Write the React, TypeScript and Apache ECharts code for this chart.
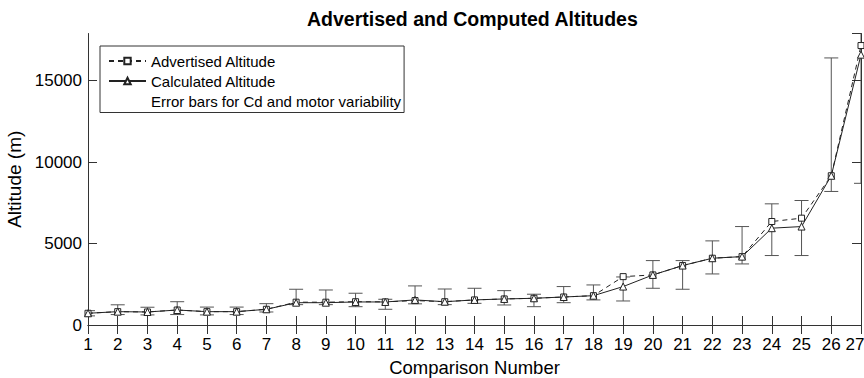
import React, { useEffect, useRef } from "react";
import * as echarts from "echarts";

const comparisonNumbers = [
  1, 2, 3, 4, 5, 6, 7, 8, 9, 10, 11, 12, 13, 14, 15, 16, 17, 18, 19, 20, 21, 22, 23, 24, 25, 26, 27,
];
const advertisedAltitude = [
  720, 820, 800, 920, 820, 820, 965, 1400, 1400, 1430, 1420, 1500, 1430, 1540, 1600, 1640, 1720, 1800,
  2970, 3075, 3650, 4100, 4200, 6355, 6560, 9165, 17160,
];
const calculatedAltitude = [
  720, 820, 800, 920, 820, 820, 965, 1370, 1370, 1415, 1415, 1540, 1430, 1540, 1600, 1640, 1720, 1800,
  2360, 3075, 3650, 4100, 4200, 5945, 6045, 9165, 16600,
];
const errorLow = [
  560, 640, 620, 640, 620, 640, 800, 1250, 1250, 1125, 965, 1300, 1250, 1330, 1230, 1125, 1370, 1540,
  1475, 2255, 2195, 3135, 3750, 4265, 4265, 8200, 8700,
];
const errorHigh = [
  880, 1240, 1090, 1430, 1100, 1100, 1310, 2195, 2150, 1950, 1580, 2400, 2210, 2255, 2110, 1890, 2360, 2460,
  2950, 3955, 3955, 5165, 6045, 7440, 7645, 16400, 19000,
];
const yTicks = [0, 5000, 10000, 15000];

const FONT = "'Liberation Sans', Arial, Helvetica, sans-serif";

export default function App() {
  const ref = useRef<HTMLDivElement>(null);
  useEffect(() => {
    if (!ref.current) return;
    const chart = echarts.init(ref.current, undefined, { renderer: "svg" });
    const errData = comparisonNumbers.map((c, i) => [c, errorLow[i], errorHigh[i]]);
    const advData = comparisonNumbers.map((c, i) => [c, advertisedAltitude[i]]);
    const calcData = comparisonNumbers.map((c, i) => [c, calculatedAltitude[i]]);
    const errStyle = { stroke: "#555", lineWidth: 1 };
    const lastX = comparisonNumbers[comparisonNumbers.length - 1];
    chart.setOption({
      animation: false,
      backgroundColor: "#fff",
      textStyle: { fontFamily: FONT },
      title: {
        text: "Advertised and Computed Altitudes",
        left: 307,
        top: 9,
        padding: 0,
        textStyle: { fontFamily: FONT, fontSize: 19.5, fontWeight: "bold", color: "#000" },
      },
      legend: {
        orient: "vertical",
        left: 100,
        top: 46,
        padding: [7.5, 3, 4, 8],
        itemWidth: 37,
        itemHeight: 8,
        itemGap: 5,
        borderColor: "#333",
        borderWidth: 1,
        backgroundColor: "#fff",
        selectedMode: false,
        textStyle: { fontFamily: FONT, fontSize: 15, color: "#000" },
        data: [
          { name: "Advertised Altitude" },
          { name: "Calculated Altitude" },
          { name: "Error bars for Cd and motor variability", icon: "rect", itemStyle: { opacity: 0 } },
        ],
      },
      grid: { left: 88, right: 3, top: 33.5, bottom: 53, containLabel: false, outerBoundsMode: "none" },
      xAxis: [
        {
          type: "value",
          min: 1,
          max: 27,
          interval: 1,
          position: "bottom",
          name: "Comparison Number",
          nameLocation: "middle",
          nameGap: 33,
          nameTextStyle: { fontFamily: FONT, fontSize: 18.5, color: "#000", lineHeight: 19 },
          axisLine: { show: true, lineStyle: { color: "#333", width: 1 } },
          axisTick: { show: true, inside: true, length: 9, lineStyle: { color: "#333" } },
          axisLabel: {
            fontFamily: FONT,
            fontSize: 17,
            color: "#000",
            margin: 11,
            formatter: (v: number) => (v === lastX ? "{last|" + v + "}" : String(v)),
            rich: {
              last: { fontFamily: FONT, fontSize: 17, color: "#000", padding: [0, 12, 0, 0] },
            },
          },
          splitLine: { show: false },
        },
        {
          type: "value",
          min: 1,
          max: 27,
          interval: 1,
          position: "top",
          axisLine: { show: true, lineStyle: { color: "#333", width: 1 } },
          axisTick: { show: true, inside: true, length: 9, lineStyle: { color: "#333" } },
          axisLabel: { show: false },
          splitLine: { show: false },
        },
      ],
      yAxis: [
        {
          type: "value",
          min: 0,
          max: 17900,
          interval: 5000,
          position: "left",
          name: "Altitude (m)",
          nameLocation: "middle",
          nameRotate: 90,
          nameGap: 56,
          nameTextStyle: { fontFamily: FONT, fontSize: 19, color: "#000" },
          axisLine: { show: true, lineStyle: { color: "#333", width: 1 } },
          axisTick: { show: true, inside: true, length: 9, lineStyle: { color: "#333" } },
          axisLabel: {
            fontFamily: FONT,
            fontSize: 17,
            color: "#000",
            margin: 6,
            showMaxLabel: false,
            formatter: (v: number) => (yTicks.includes(v) ? String(v) : ""),
          },
          splitLine: { show: false },
        },
        {
          type: "value",
          min: 0,
          max: 17900,
          interval: 5000,
          position: "right",
          axisLine: { show: true, lineStyle: { color: "#333", width: 1 } },
          axisTick: { show: true, inside: true, length: 9, lineStyle: { color: "#333" } },
          axisLabel: { show: false },
          splitLine: { show: false },
        },
      ],
      series: [
        {
          name: "Error bars for Cd and motor variability",
          type: "custom",
          xAxisIndex: 0,
          yAxisIndex: 0,
          clip: true,
          itemStyle: { color: "#555" },
          data: errData,
          encode: { x: 0, y: [1, 2] },
          renderItem: (params: any, api: any) => {
            const x = api.value(0);
            const pLo = api.coord([x, api.value(1)]);
            const pHi = api.coord([x, api.value(2)]);
            const w = 7;
            return {
              type: "group",
              children: [
                { type: "line", shape: { x1: pLo[0], y1: pLo[1], x2: pHi[0], y2: pHi[1] }, style: errStyle },
                { type: "line", shape: { x1: pLo[0] - w, y1: pLo[1], x2: pLo[0] + w, y2: pLo[1] }, style: errStyle },
                { type: "line", shape: { x1: pHi[0] - w, y1: pHi[1], x2: pHi[0] + w, y2: pHi[1] }, style: errStyle },
              ],
            };
          },
        },
        {
          name: "Advertised Altitude",
          type: "line",
          xAxisIndex: 0,
          yAxisIndex: 0,
          data: advData,
          symbol: "rect",
          symbolSize: 6,
          showAllSymbol: true,
          lineStyle: { color: "#222", width: 1, type: [5, 4] },
          itemStyle: { color: "#fff", borderColor: "#222", borderWidth: 1 },
          emphasis: { disabled: true },
        },
        {
          name: "Calculated Altitude",
          type: "line",
          xAxisIndex: 0,
          yAxisIndex: 0,
          data: calcData,
          symbol: "triangle",
          symbolSize: 7,
          showAllSymbol: true,
          lineStyle: { color: "#222", width: 1, type: "solid" },
          itemStyle: { color: "#fff", borderColor: "#222", borderWidth: 1 },
          emphasis: { disabled: true },
        },
      ],
    });
    return () => chart.dispose();
  }, []);
  return (
    <div
      ref={ref}
      style={{ position: "absolute", left: 0, top: 0, width: 864, height: 378, background: "#fff" }}
    />
  );
}
